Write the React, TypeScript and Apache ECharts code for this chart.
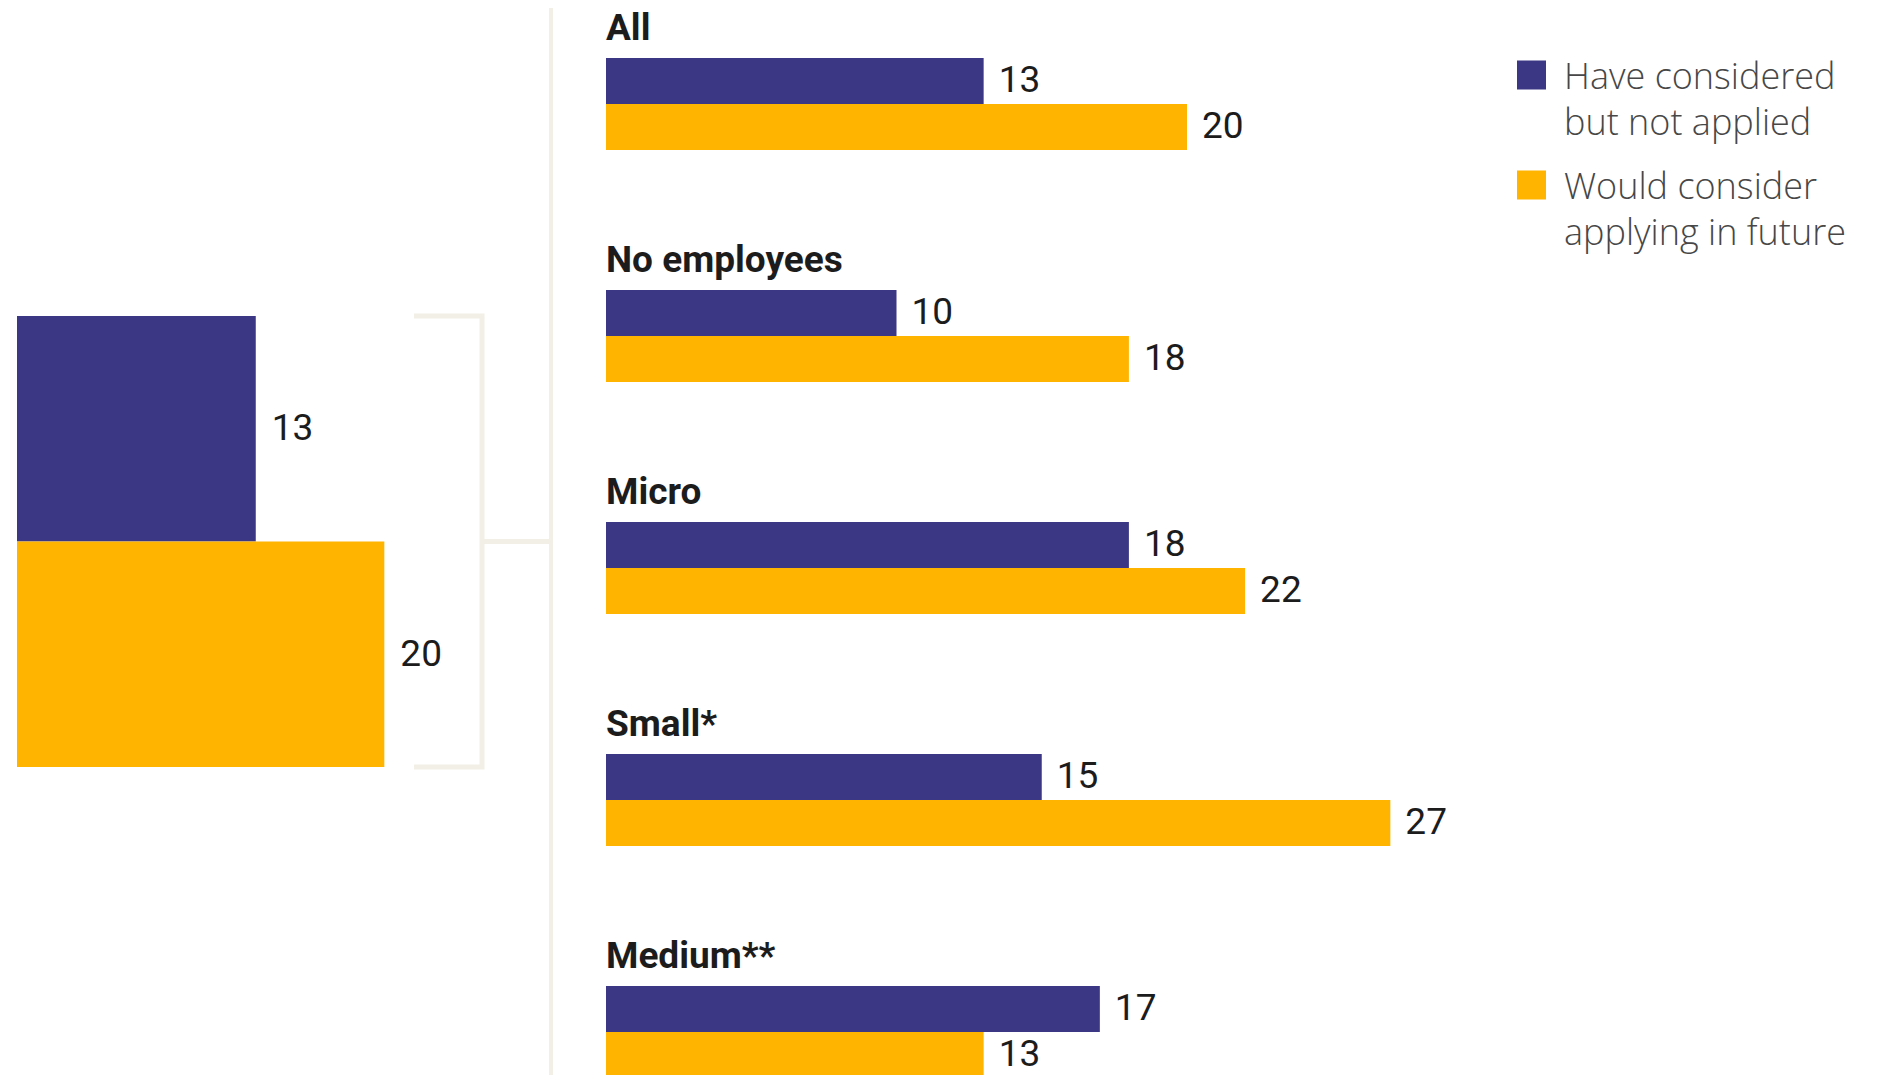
import React, { useEffect, useRef } from "react";
import * as echarts from "echarts";

// Business size groups and the share (%) in each answer group
const categories = ["All", "No employees", "Micro", "Small*", "Medium**"];
const consideredNotApplied = [13, 10, 18, 15, 17];
const wouldConsiderFuture = [20, 18, 22, 27, 13];

// Overall summary block on the left
const summaryCategory = ["All"];
const summaryConsidered = [13];
const summaryFuture = [20];

const SERIES_A = "Have considered but not applied";
const SERIES_B = "Would consider applying in future";
const LEGEND_TEXT: Record<string, string> = {
  [SERIES_A]: "Have considered\nbut not applied",
  [SERIES_B]: "Would consider\napplying in future",
};

const PURPLE = "#3c3785";
const YELLOW = "#ffb400";
const RULE = "#f2efe6";
const INK = "#1c1c1c";

// Layout of the summary block and the detail panel
const SUM_LEFT = 17;
const SUM_TOP = 316;
const SUM_HEIGHT = 451;
const SUM_MAX = 30;
const SUM_WIDTH = 551;

const DET_LEFT = 606;
const DET_BAND = 232;
const DET_TOP = -12;
const DET_MAX = 40;
const DET_WIDTH = 1162;

const BRACKET_X = 482;
const BRACKET_START = 414;
const SPINE_X = 551;

// Legend swatch: a 29px square at the top of a taller item box so the
// swatch lines up with the first line of its two-line caption
const LEGEND_ICON = "path://M0 0H29V29H0ZM0 75H29V75H0Z";

const valueLabel = {
  show: true,
  position: "right" as const,
  distance: 15,
  offset: [0, -2],
  color: INK,
  fontSize: 37,
  fontFamily: "Roboto",
};

export default function App() {
  const ref = useRef<HTMLDivElement>(null);

  useEffect(() => {
    if (!ref.current) return;
    const chart = echarts.init(ref.current, null, { renderer: "svg" });
    const mid = SUM_TOP + SUM_HEIGHT / 2;
    const bottom = SUM_TOP + SUM_HEIGHT;

    chart.setOption({
      animation: false,
      backgroundColor: "#ffffff",
      legend: {
        orient: "vertical",
        left: 1517,
        top: 52,
        padding: 0,
        itemWidth: 29,
        itemHeight: 75,
        itemGap: 18,
        icon: LEGEND_ICON,
        selectedMode: false,
        data: [SERIES_A, SERIES_B],
        formatter: (name: string) => LEGEND_TEXT[name] ?? name,
        textStyle: {
          color: "#474747",
          fontSize: 36,
          fontWeight: 300,
          fontFamily: "Open Sans",
          lineHeight: 46,
          padding: [0, 0, 0, 13],
        },
      },
      grid: [
        {
          left: SUM_LEFT,
          top: SUM_TOP,
          width: SUM_WIDTH,
          height: SUM_HEIGHT,
          outerBoundsMode: "none",
        },
        {
          left: DET_LEFT,
          top: DET_TOP,
          width: DET_WIDTH,
          height: DET_BAND * categories.length,
          outerBoundsMode: "none",
        },
      ],
      xAxis: [
        { type: "value", gridIndex: 0, min: 0, max: SUM_MAX, show: false },
        { type: "value", gridIndex: 1, min: 0, max: DET_MAX, show: false },
      ],
      yAxis: [
        {
          type: "category",
          gridIndex: 0,
          data: summaryCategory,
          inverse: true,
          show: false,
        },
        {
          type: "category",
          gridIndex: 1,
          data: categories,
          inverse: true,
          axisLine: { show: false },
          axisTick: { show: false },
          splitLine: { show: false },
          axisLabel: {
            inside: true,
            interval: 0,
            margin: 0,
            align: "left",
            verticalAlign: "bottom",
            padding: [0, 0, 58, 0],
            color: INK,
            fontSize: 37,
            fontWeight: "bold",
            fontFamily: "Roboto",
          },
        },
      ],
      series: [
        {
          name: SERIES_A,
          type: "bar",
          xAxisIndex: 0,
          yAxisIndex: 0,
          data: summaryConsidered,
          barGap: "0%",
          barCategoryGap: "0%",
          itemStyle: { color: PURPLE },
          label: { ...valueLabel, distance: 16, offset: [0, -1] },
        },
        {
          name: SERIES_B,
          type: "bar",
          xAxisIndex: 0,
          yAxisIndex: 0,
          data: summaryFuture,
          barGap: "0%",
          barCategoryGap: "0%",
          itemStyle: { color: YELLOW },
          label: { ...valueLabel, distance: 16, offset: [0, -1] },
        },
        {
          name: SERIES_A,
          type: "bar",
          xAxisIndex: 1,
          yAxisIndex: 1,
          data: consideredNotApplied,
          barWidth: 46,
          barGap: "0%",
          itemStyle: { color: PURPLE },
          label: valueLabel,
        },
        {
          name: SERIES_B,
          type: "bar",
          xAxisIndex: 1,
          yAxisIndex: 1,
          data: wouldConsiderFuture,
          barWidth: 46,
          barGap: "0%",
          itemStyle: { color: YELLOW },
          label: valueLabel,
        },
      ],
      graphic: [
        // bracket grouping the summary block
        {
          type: "polyline",
          shape: {
            points: [
              [BRACKET_START, SUM_TOP],
              [BRACKET_X, SUM_TOP],
              [BRACKET_X, bottom],
              [BRACKET_START, bottom],
            ],
          },
          style: { stroke: RULE, lineWidth: 5, fill: null },
        },
        {
          type: "line",
          shape: { x1: BRACKET_X, y1: mid, x2: SPINE_X, y2: mid },
          style: { stroke: RULE, lineWidth: 5 },
        },
        // spine joining the detail groups
        {
          type: "line",
          shape: { x1: SPINE_X, y1: 8, x2: SPINE_X, y2: 1075 },
          style: { stroke: RULE, lineWidth: 4 },
        },
      ],
    });

    return () => chart.dispose();
  }, []);

  return (
    <div
      ref={ref}
      style={{ position: "fixed", left: 0, top: 0, width: 1886, height: 1075 }}
    />
  );
}
